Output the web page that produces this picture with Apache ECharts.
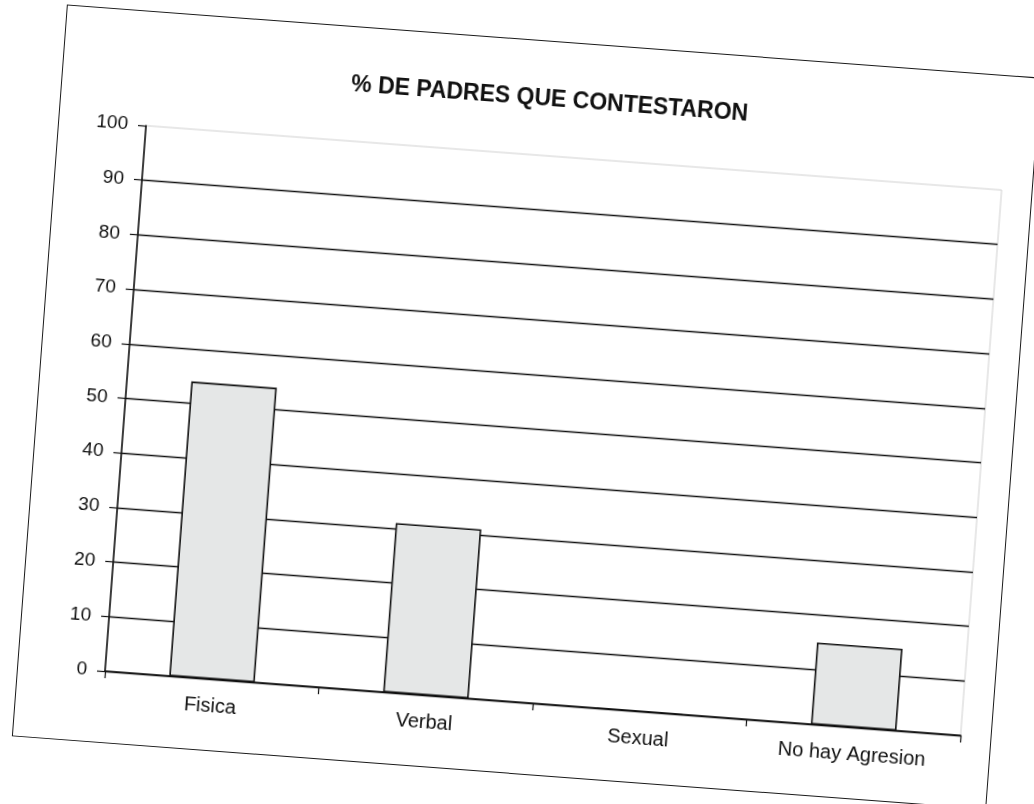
<!DOCTYPE html>
<html>
<head>
<meta charset="utf-8">
<title>% DE PADRES QUE CONTESTARON</title>
<script src="https://cdn.jsdelivr.net/npm/echarts@6/dist/echarts.min.js"></script>
<style>
  html, body { margin: 0; padding: 0; background: #fff; }
  #wrap { position: relative; width: 1034px; height: 804px; overflow: hidden; }
  /* the scanned page sits a little crooked, so the frame is turned a few degrees */
  #chart {
    position: absolute;
    left: 38px;
    top: 40px;
    width: 977px;
    height: 734px;
    box-sizing: border-box;
    border: 1.5px solid #1a1a1a;
    background: #fff;
    transform: rotate(4.3deg);
    transform-origin: 50% 50%;
  }
</style>
</head>
<body>
<div id="wrap"><div id="chart"></div></div>
<script>
  const titulo = '% DE PADRES QUE CONTESTARON';
  const categorias = ['Fisica', 'Verbal', 'Sexual', 'No hay Agresion'];
  const porcentajes = [54, 31, 0, 15];
  const yMin = 0;
  const yMax = 100;
  const yPaso = 10;

  var chartDom = document.getElementById('chart');
  var myChart = echarts.init(chartDom);
  var option;

  option = {
    animation: false,
    title: {
      text: titulo,
      left: 'center',
      top: 41,
      textStyle: {
        fontFamily: 'Liberation Sans, Arial, sans-serif',
        fontSize: 23,
        fontWeight: 'bold',
        color: '#111'
      }
    },
    grid: {
      left: 87,
      right: 30,
      top: 114,
      bottom: 71,
      show: true,
      borderColor: '#d0d0d0',
      borderWidth: 1,
      backgroundColor: '#fff'
    },
    xAxis: {
      type: 'category',
      data: categorias,
      boundaryGap: true,
      axisLine: {
        show: true,
        lineStyle: { color: '#111', width: 1.6 }
      },
      axisTick: {
        show: true,
        alignWithLabel: false,
        length: 7,
        lineStyle: { color: '#111', width: 1.2 }
      },
      axisLabel: {
        margin: 17,
        fontFamily: 'Liberation Sans, Arial, sans-serif',
        fontSize: 20,
        color: '#111'
      }
    },
    yAxis: {
      type: 'value',
      min: yMin,
      max: yMax,
      interval: yPaso,
      axisLine: {
        show: true,
        lineStyle: { color: '#111', width: 1.6 }
      },
      axisTick: {
        show: true,
        length: 8,
        lineStyle: { color: '#111', width: 1.2 }
      },
      axisLabel: {
        margin: 18,
        fontFamily: 'Liberation Sans, Arial, sans-serif',
        fontSize: 19,
        color: '#111'
      },
      splitLine: {
        show: true,
        showMaxLine: false,
        lineStyle: { color: '#111', width: 1.4 }
      }
    },
    series: [
      {
        type: 'bar',
        data: porcentajes,
        barWidth: '40%',
        itemStyle: {
          color: '#e5e7e7',
          borderColor: '#111',
          borderWidth: 1.6
        }
      }
    ]
  };

  option && myChart.setOption(option);
</script>
</body>
</html>
